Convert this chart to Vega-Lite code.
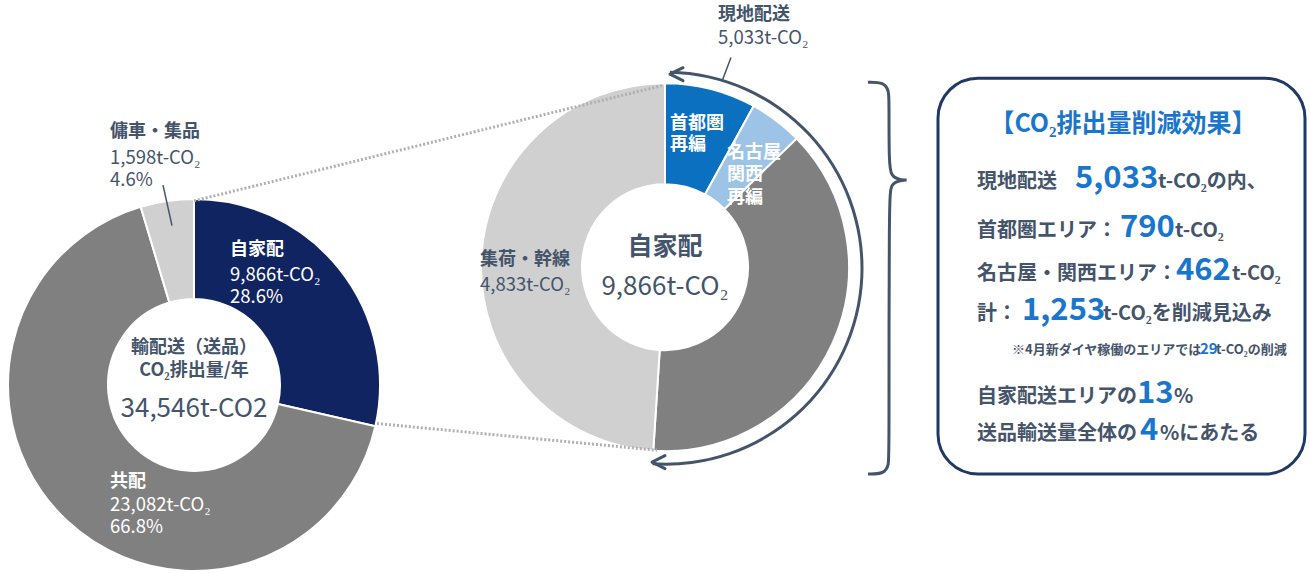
{
  "$schema": "https://vega.github.io/schema/vega-lite/v6.json",
  "width": 1311,
  "height": 573,
  "autosize": {"type": "fit", "contains": "padding"},
  "padding": 0,
  "background": "white",
  "config": {"font": "Noto Sans CJK JP", "view": {"stroke": null}},
  "datasets": {
    "leftDonut": [
      {"cat": "自家配", "value": 9866, "i": 1, "x": 194, "y": 389},
      {"cat": "共配", "value": 23082, "i": 2, "x": 194, "y": 389},
      {"cat": "傭車・集品", "value": 1598, "i": 3, "x": 194, "y": 389}
    ],
    "rightDonut": [
      {"cat": "首都圏再編", "value": 790, "i": 1, "x": 665, "y": 270},
      {"cat": "名古屋・関西再編", "value": 462, "i": 2, "x": 665, "y": 270},
      {"cat": "現地配送（その他）", "value": 3781, "i": 3, "x": 665, "y": 270},
      {"cat": "集荷・幹線", "value": 4833, "i": 4, "x": 665, "y": 270}
    ],
    "dotted": [
      {"id": "d1", "i": 1, "x": 194, "y": 203},
      {"id": "d1", "i": 2, "x": 664, "y": 86},
      {"id": "d2", "i": 1, "x": 377, "y": 428},
      {"id": "d2", "i": 2, "x": 657, "y": 455}
    ],
    "leaders": [
      {"id": "l1", "i": 1, "x": 163, "y": 187},
      {"id": "l1", "i": 2, "x": 172, "y": 228},
      {"id": "l2", "i": 1, "x": 731, "y": 58},
      {"id": "l2", "i": 2, "x": 722, "y": 82}
    ],
    "brace": [
      {"i": 1, "x": 868, "y": 83},
      {"i": 2, "x": 884, "y": 83},
      {"i": 3, "x": 889, "y": 92},
      {"i": 4, "x": 889, "y": 103},
      {"i": 5, "x": 889, "y": 165},
      {"i": 6, "x": 891, "y": 178},
      {"i": 7, "x": 900, "y": 182},
      {"i": 8, "x": 910, "y": 182},
      {"i": 9, "x": 900, "y": 182},
      {"i": 10, "x": 891, "y": 186},
      {"i": 11, "x": 889, "y": 199},
      {"i": 12, "x": 889, "y": 457},
      {"i": 13, "x": 889, "y": 470},
      {"i": 14, "x": 884, "y": 479},
      {"i": 15, "x": 868, "y": 479}
    ],
    "ring": [{"x": 666, "y": 271}],
    "arrowheads": [
      {"x": 670, "y": 75},
      {"x": 652, "y": 467}
    ],
    "box": [{"x": 938, "x2": 1305, "y": 79, "y2": 479}],
    "darkBoldL": [
      {"t": "傭車・集品", "x": 110, "y": 133},
      {"t": "集荷・幹線", "x": 480, "y": 263},
      {"t": "現地配送", "x": 718, "y": 15}
    ],
    "darkL": [
      {"t": "1,598t-CO₂", "x": 110, "y": 160},
      {"t": "4.6%", "x": 110, "y": 182},
      {"t": "4,833t-CO₂", "x": 480, "y": 288},
      {"t": "5,033t-CO₂", "x": 718, "y": 38}
    ],
    "whiteBoldL": [
      {"t": "自家配", "x": 230, "y": 253},
      {"t": "共配", "x": 110, "y": 487},
      {"t": "首都圏", "x": 670, "y": 125},
      {"t": "再編", "x": 670, "y": 147},
      {"t": "名古屋", "x": 727, "y": 155},
      {"t": "関西", "x": 727, "y": 177},
      {"t": "再編", "x": 727, "y": 200}
    ],
    "whiteL": [
      {"t": "9,866t-CO₂", "x": 230, "y": 278},
      {"t": "28.6%", "x": 230, "y": 300},
      {"t": "23,082t-CO₂", "x": 110, "y": 510},
      {"t": "66.8%", "x": 110, "y": 533}
    ],
    "darkBoldC": [
      {"t": "輸配送（送品）", "x": 194, "y": 352},
      {"t": "CO₂排出量/年", "x": 194, "y": 375}
    ],
    "bigC": [
      {"t": "34,546t-CO2", "x": 194, "y": 413},
      {"t": "9,866t-CO₂", "x": 665, "y": 290}
    ],
    "bigBoldC": [
      {"t": "自家配", "x": 665, "y": 250}
    ],
    "boxTitle": [
      {"t": "【CO₂排出量削減効果】", "x": 1123, "y": 133}
    ],
    "boxDark": [
      {"t": "現地配送", "x": 977, "y": 190},
      {"t": "t-CO₂の内、", "x": 1158, "y": 190},
      {"t": "首都圏エリア：", "x": 977, "y": 240},
      {"t": "t-CO₂", "x": 1175, "y": 240},
      {"t": "名古屋・関西エリア：", "x": 977, "y": 283},
      {"t": "t-CO₂", "x": 1232, "y": 283},
      {"t": "計：", "x": 977, "y": 323},
      {"t": "t-CO₂を削減見込み", "x": 1103, "y": 323},
      {"t": "自家配送エリアの", "x": 977, "y": 407},
      {"t": "%", "x": 1174, "y": 407},
      {"t": "送品輸送量全体の", "x": 977, "y": 445},
      {"t": "%にあたる", "x": 1160, "y": 445}
    ],
    "boxBlue": [
      {"t": "5,033", "x": 1075, "y": 190},
      {"t": "790", "x": 1120, "y": 240},
      {"t": "462", "x": 1176, "y": 283},
      {"t": "1,253", "x": 1022, "y": 323},
      {"t": "13", "x": 1137, "y": 407},
      {"t": "4", "x": 1140, "y": 445}
    ],
    "boxNote": [
      {"t": "※4月新ダイヤ稼働のエリアでは", "x": 1012, "y": 358},
      {"t": "t-CO₂の削減", "x": 1216, "y": 358}
    ],
    "boxNoteBlue": [
      {"t": "29", "x": 1200, "y": 358}
    ]
  },
  "encoding": {
    "x": {"field": "x", "type": "quantitative", "scale": {"domain": [0, 1311], "nice": false, "zero": false}, "axis": null},
    "y": {"field": "y", "type": "quantitative", "scale": {"domain": [0, 573], "nice": false, "zero": false, "reverse": true}, "axis": null}
  },
  "layer": [
    {
      "data": {"name": "leftDonut"},
      "mark": {"type": "arc", "radius": 186, "radius2": 86, "stroke": "white", "strokeWidth": 2},
      "encoding": {
        "theta": {"field": "value", "type": "quantitative", "stack": "normalize"},
        "order": {"field": "i", "type": "quantitative"},
        "color": {"field": "cat", "type": "nominal", "legend": null,
          "scale": {"domain": ["自家配", "共配", "傭車・集品", "首都圏再編", "名古屋・関西再編", "現地配送（その他）", "集荷・幹線"],
                    "range": ["#0f2461", "#808080", "#d0d0d0", "#0b70c0", "#9dc3e6", "#808080", "#d0d0d0"]}}
      }
    },
    {
      "data": {"name": "rightDonut"},
      "mark": {"type": "arc", "radius": 184, "radius2": 83, "stroke": "white", "strokeWidth": 2},
      "encoding": {
        "theta": {"field": "value", "type": "quantitative", "stack": "normalize"},
        "order": {"field": "i", "type": "quantitative"},
        "color": {"field": "cat", "type": "nominal", "legend": null}
      }
    },
    {
      "data": {"name": "dotted"},
      "mark": {"type": "line", "color": "#b0b0b0", "strokeWidth": 3, "strokeDash": [2, 2]},
      "encoding": {"detail": {"field": "id"}, "order": {"field": "i", "type": "quantitative"}}
    },
    {
      "data": {"name": "ring"},
      "mark": {"type": "arc", "radius": 197.5, "radius2": 194.5, "theta": 0.02, "theta2": 3.21, "fill": "#44546a"}
    },
    {
      "data": {"name": "arrowheads"},
      "mark": {"type": "point", "shape": "M1,-0.5L0,0L1,0.5", "size": 676, "filled": false, "stroke": "#44546a", "strokeWidth": 3, "opacity": 1, "strokeCap": "round", "strokeJoin": "round"}
    },
    {
      "data": {"name": "leaders"},
      "mark": {"type": "line", "color": "#44546a", "strokeWidth": 1.5},
      "encoding": {"detail": {"field": "id"}, "order": {"field": "i", "type": "quantitative"}}
    },
    {
      "data": {"name": "brace"},
      "mark": {"type": "line", "color": "#44546a", "strokeWidth": 3, "interpolate": "basis"},
      "encoding": {"order": {"field": "i", "type": "quantitative"}}
    },
    {
      "data": {"name": "darkBoldL"},
      "mark": {"type": "text", "align": "left", "baseline": "middle", "fontSize": 18, "fontWeight": "bold", "color": "#44546a"},
      "encoding": {"text": {"field": "t"}}
    },
    {
      "data": {"name": "darkL"},
      "mark": {"type": "text", "align": "left", "baseline": "middle", "fontSize": 18.5, "color": "#44546a"},
      "encoding": {"text": {"field": "t"}}
    },
    {
      "data": {"name": "whiteBoldL"},
      "mark": {"type": "text", "align": "left", "baseline": "middle", "fontSize": 18, "fontWeight": "bold", "color": "white"},
      "encoding": {"text": {"field": "t"}}
    },
    {
      "data": {"name": "whiteL"},
      "mark": {"type": "text", "align": "left", "baseline": "middle", "fontSize": 18.5, "color": "white"},
      "encoding": {"text": {"field": "t"}}
    },
    {
      "data": {"name": "darkBoldC"},
      "mark": {"type": "text", "align": "center", "baseline": "middle", "fontSize": 18, "fontWeight": "bold", "color": "#44546a"},
      "encoding": {"text": {"field": "t"}}
    },
    {
      "data": {"name": "bigC"},
      "mark": {"type": "text", "align": "center", "baseline": "middle", "fontSize": 26, "color": "#44546a"},
      "encoding": {"text": {"field": "t"}}
    },
    {
      "data": {"name": "bigBoldC"},
      "mark": {"type": "text", "align": "center", "baseline": "middle", "fontSize": 25, "fontWeight": "bold", "color": "#44546a"},
      "encoding": {"text": {"field": "t"}}
    },
    {
      "data": {"name": "box"},
      "mark": {"type": "rect", "cornerRadius": 40, "fill": "white", "stroke": "#1f3864", "strokeWidth": 3},
      "encoding": {"x2": {"field": "x2"}, "y2": {"field": "y2"}}
    },
    {
      "data": {"name": "boxTitle"},
      "mark": {"type": "text", "align": "center", "baseline": "alphabetic", "fontSize": 25, "fontWeight": "bold", "color": "#1a76cc"},
      "encoding": {"text": {"field": "t"}}
    },
    {
      "data": {"name": "boxDark"},
      "mark": {"type": "text", "align": "left", "baseline": "alphabetic", "fontSize": 20, "fontWeight": "bold", "color": "#44546a"},
      "encoding": {"text": {"field": "t"}}
    },
    {
      "data": {"name": "boxBlue"},
      "mark": {"type": "text", "align": "left", "baseline": "alphabetic", "fontSize": 31, "fontWeight": "bold", "color": "#1a76cc"},
      "encoding": {"text": {"field": "t"}}
    },
    {
      "data": {"name": "boxNote"},
      "mark": {"type": "text", "align": "left", "baseline": "alphabetic", "fontSize": 13, "fontWeight": "bold", "color": "#44546a"},
      "encoding": {"text": {"field": "t"}}
    },
    {
      "data": {"name": "boxNoteBlue"},
      "mark": {"type": "text", "align": "left", "baseline": "alphabetic", "fontSize": 15, "fontWeight": "bold", "color": "#1a76cc"},
      "encoding": {"text": {"field": "t"}}
    }
  ]
}
